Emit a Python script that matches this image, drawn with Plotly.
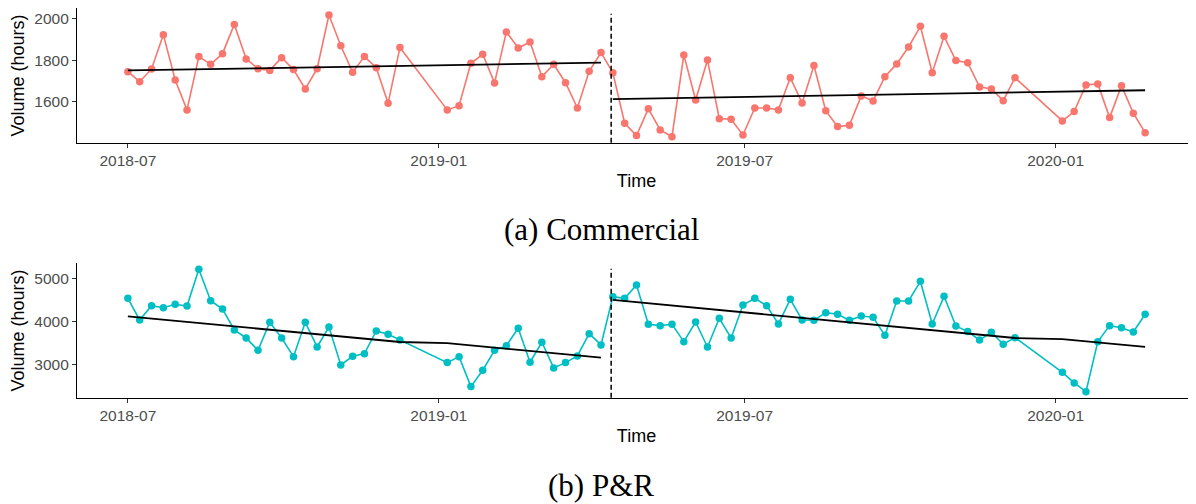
import plotly.graph_objects as go

# ---------------- data ----------------
dates = [
    "2018-07-01", "2018-07-08", "2018-07-15", "2018-07-22", "2018-07-29", "2018-08-05",
    "2018-08-12", "2018-08-19", "2018-08-26", "2018-09-02", "2018-09-09", "2018-09-16",
    "2018-09-23", "2018-09-30", "2018-10-07", "2018-10-14", "2018-10-21", "2018-10-28",
    "2018-11-04", "2018-11-11", "2018-11-18", "2018-11-25", "2018-12-02", "2018-12-09",
    "2019-01-06", "2019-01-13", "2019-01-20", "2019-01-27", "2019-02-03", "2019-02-10",
    "2019-02-17", "2019-02-24", "2019-03-03", "2019-03-10", "2019-03-17", "2019-03-24",
    "2019-03-31", "2019-04-07",
    "2019-04-14", "2019-04-21", "2019-04-28", "2019-05-05", "2019-05-12", "2019-05-19",
    "2019-05-26", "2019-06-02", "2019-06-09", "2019-06-16", "2019-06-23", "2019-06-30",
    "2019-07-07", "2019-07-14", "2019-07-21", "2019-07-28", "2019-08-04", "2019-08-11",
    "2019-08-18", "2019-08-25", "2019-09-01", "2019-09-08", "2019-09-15", "2019-09-22",
    "2019-09-29", "2019-10-06", "2019-10-13", "2019-10-20", "2019-10-27", "2019-11-03",
    "2019-11-10", "2019-11-17", "2019-11-24", "2019-12-01", "2019-12-08",
    "2020-01-05", "2020-01-12", "2020-01-19", "2020-01-26", "2020-02-02", "2020-02-09",
    "2020-02-16", "2020-02-23",
]

commercial = [
    1745, 1697, 1758, 1922, 1705, 1562, 1817, 1780, 1831, 1971, 1806, 1759,
    1751, 1812, 1755, 1662, 1759, 2016, 1869, 1742, 1817, 1764, 1594, 1860,
    1562, 1582, 1785, 1828, 1691, 1935, 1858, 1887, 1721, 1780, 1692, 1571,
    1747, 1836,
    1740, 1498, 1439, 1568, 1466, 1434, 1825, 1609, 1801, 1520, 1517, 1442,
    1571, 1571, 1562, 1716, 1595, 1774, 1558, 1482, 1488, 1629, 1605, 1721,
    1782, 1863, 1962, 1740, 1914, 1798, 1788, 1672, 1662, 1606, 1716,
    1509, 1554, 1681, 1686, 1525, 1678, 1546, 1453,
]

pr = [
    4550, 4047, 4380, 4333, 4411, 4372, 5225, 4496, 4302, 3814, 3628, 3342,
    3993, 3628, 3194, 3993, 3419, 3884, 3000, 3202, 3264, 3791, 3714, 3582,
    3055, 3194, 2497, 2877, 3342, 3450, 3853, 3063, 3528, 2931, 3055, 3210,
    3729, 3466,
    4589, 4550, 4860, 3946, 3915, 3946, 3543, 4000, 3419, 4086, 3628, 4396,
    4550, 4380, 3954, 4527, 4047, 4039, 4217, 4179, 4039, 4140, 4109, 3690,
    4489, 4489, 4946, 3954, 4597, 3907, 3776, 3582, 3760, 3481, 3636,
    2830, 2582, 2380, 3543, 3915, 3868, 3768, 4179,
]

# fitted trend lines before / after the intervention
trend_pre_dates = ["2018-07-01", "2018-12-09", "2019-01-06", "2019-04-07"]
trend_post_dates = ["2019-04-14", "2019-12-08", "2020-01-05", "2020-02-23"]
commercial_trend_pre = [1751, 1774, 1775, 1788]
commercial_trend_post = [1613, 1648, 1649, 1656]
pr_trend_pre = [4132, 3534, 3508, 3170]
pr_trend_post = [4512, 3627, 3602, 3419]

intervention_date = "2019-04-13"

tick_vals = ["2018-07-01", "2019-01-01", "2019-07-01", "2020-01-01"]
x_range = ["2018-05-31 21:36", "2020-03-24 02:24"]
commercial_range = [1405, 2048]
pr_range = [2239, 5365]
commercial_ticks = [1600, 1800, 2000]
pr_ticks = [3000, 4000, 5000]

# ---------------- figure ----------------
RED = "#F8766D"
TEAL = "#00BFC4"
OFF = 8                      # the page body adds an 8px margin around the figure
W, H = 1196 - OFF, 504 - OFF

fig = go.Figure()


def add_panel(values, tp, tq, color, xa, ya):
    fig.add_trace(go.Scatter(
        x=dates, y=values, mode="lines+markers",
        line=dict(color=color, width=1.6),
        marker=dict(color=color, size=7.5),
        xaxis=xa, yaxis=ya, showlegend=False, hoverinfo="x+y",
    ))
    fig.add_trace(go.Scatter(
        x=trend_pre_dates, y=tp, mode="lines",
        line=dict(color="black", width=1.8),
        xaxis=xa, yaxis=ya, showlegend=False,
    ))
    fig.add_trace(go.Scatter(
        x=trend_post_dates, y=tq, mode="lines",
        line=dict(color="black", width=1.8),
        xaxis=xa, yaxis=ya, showlegend=False,
    ))


add_panel(commercial, commercial_trend_pre, commercial_trend_post, RED, "x", "y")
add_panel(pr, pr_trend_pre, pr_trend_post, TEAL, "x2", "y2")

tick_font = dict(family="Liberation Sans, Arial, sans-serif", size=15.5, color="#4D4D4D")
title_font = dict(family="Liberation Sans, Arial, sans-serif", size=18, color="black")

xcommon = dict(
    type="date", range=x_range, tickvals=tick_vals, tickformat="%Y-%m",
    showgrid=False, zeroline=False, showline=True, linecolor="black", linewidth=1.2,
    ticks="outside", ticklen=4, tickcolor="#333333", tickwidth=1,
    tickfont=tick_font, domain=[(77 - OFF) / W, 1.0], automargin=False,
    title=dict(text="Time", font=title_font, standoff=5),
)
ycommon = dict(
    showgrid=False, zeroline=False, showline=True, linecolor="black", linewidth=1.2,
    ticks="outside", ticklen=4, tickcolor="#333333", tickwidth=1,
    tickfont=tick_font, automargin=False,
    title=dict(text="Volume (hours)", font=title_font, standoff=7),
)


def dom(top_px, bottom_px):
    return [1 - (bottom_px - OFF) / H, 1 - (top_px - OFF) / H]


def px_x(x):
    return (x - OFF) / W


def px_y(y):
    return 1 - (y - OFF) / H


fig.update_layout(
    width=W, height=H,
    margin=dict(l=0, r=0, t=0, b=0, autoexpand=False),
    paper_bgcolor="white", plot_bgcolor="white",
    xaxis=dict(xcommon, anchor="y"),
    yaxis=dict(ycommon, anchor="x", domain=dom(8.3, 142.7), range=commercial_range,
               tickvals=commercial_ticks),
    xaxis2=dict(xcommon, anchor="y2"),
    yaxis2=dict(ycommon, anchor="x2", domain=dom(263.3, 397.7), range=pr_range,
                tickvals=pr_ticks),
    shapes=[
        dict(type="line", xref="x", yref="y domain", x0=intervention_date, x1=intervention_date,
             y0=0, y1=0.96, line=dict(color="black", width=1.5, dash="5px,3px")),
        dict(type="line", xref="x2", yref="y2 domain", x0=intervention_date, x1=intervention_date,
             y0=0, y1=0.96, line=dict(color="black", width=1.5, dash="5px,3px")),
    ],
    annotations=[
        dict(text="(a) Commercial", xref="paper", yref="paper", x=px_x(601), y=px_y(230),
             xanchor="center", yanchor="middle", showarrow=False,
             font=dict(family="Liberation Serif, Times New Roman, serif", size=31, color="black")),
        dict(text="(b) P&amp;R", xref="paper", yref="paper", x=px_x(601), y=px_y(485),
             xanchor="center", yanchor="middle", showarrow=False,
             font=dict(family="Liberation Serif, Times New Roman, serif", size=31, color="black")),
    ],
)

fig.write_html("out.html")
